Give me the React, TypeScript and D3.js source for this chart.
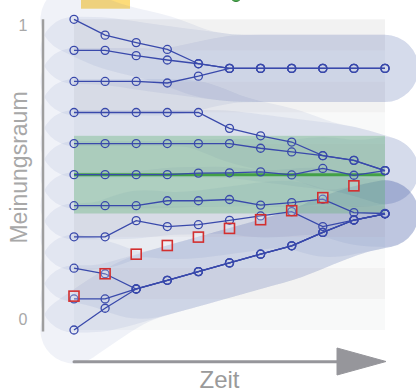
import React from "react";
import * as d3 from "d3";

const times = [0, 1, 2, 3, 4, 5, 6, 7, 8, 9, 10];
const agent00 = [0.0, 0.07, 0.132, 0.16, 0.188, 0.216, 0.244, 0.271, 0.314, 0.354, 0.374];
const agent01 = [0.1, 0.1, 0.132, 0.16, 0.188, 0.216, 0.244, 0.271, 0.314, 0.354, 0.374];
const agent02 = [0.199, 0.181, 0.132, 0.16, 0.188, 0.216, 0.244, 0.271, 0.314, 0.354, 0.374];
const agent03 = [0.3, 0.3, 0.352, 0.333, 0.339, 0.353, 0.367, 0.381, 0.333, 0.354, 0.374];
const agent04 = [0.4, 0.4, 0.4, 0.416, 0.416, 0.42, 0.402, 0.41, 0.421, 0.378, 0.375];
const agent05 = [0.5, 0.5, 0.5, 0.5, 0.505, 0.506, 0.509, 0.499, 0.52, 0.498, 0.513];
const agent06 = [0.6, 0.6, 0.6, 0.6, 0.6, 0.6, 0.585, 0.573, 0.561, 0.546, 0.513];
const agent07 = [0.7, 0.7, 0.7, 0.7, 0.7, 0.649, 0.625, 0.605, 0.561, 0.546, 0.513];
const agent08 = [0.8, 0.8, 0.8, 0.795, 0.817, 0.842, 0.842, 0.842, 0.842, 0.842, 0.842];
const agent09 = [0.9, 0.9, 0.883, 0.869, 0.857, 0.842, 0.842, 0.842, 0.842, 0.842, 0.842];
const agent10 = [1.0, 0.949, 0.925, 0.903, 0.857, 0.842, 0.842, 0.842, 0.842, 0.842, 0.842];
const agents = [agent00, agent01, agent02, agent03, agent04, agent05, agent06, agent07, agent08, agent09, agent10];

const seekerTimes = [0, 1, 2, 3, 4, 5, 6, 7, 8, 9];
const seeker = [0.109, 0.181, 0.244, 0.272, 0.299, 0.327, 0.355, 0.384, 0.426, 0.464];

const truth = 0.5;
const truthBand = [0.375, 0.625];
const confidence = 0.108;
const stripes = [0, 0.1, 0.2, 0.3, 0.4, 0.5, 0.6, 0.7, 0.8, 0.9];
const yTicks = [0, 1];

export default function App() {
  const W = 416, H = 391;
  const x = d3.scaleLinear().domain([0, 10]).range([74, 385]);
  const y = d3.scaleLinear().domain([0, 1]).range([330, 19.3]);
  const blob = d3.line<number>().x((_, i) => x(times[i])).y((d) => y(d)).curve(d3.curveBasis);
  const line = d3.line<number>().x((_, i) => x(times[i])).y((d) => y(d));
  const blobW = y(0) - y(2 * confidence);
  const blue = "#3949ab";

  return (
    <svg width={W} height={H} style={{ position: "absolute", left: 0, top: 0, fontFamily: "Liberation Sans, Arial, sans-serif" }}>
      <rect x={81} y={-10} width={49} height={18.7} fill="#fddc7a" />
      <circle cx={236} cy={-4} r={5.5} fill="#4caf50" stroke="#2e7d32" strokeWidth={1} />

      {stripes.map((s, i) => (
        <rect key={i} x={x(0)} y={y(s + 0.1)} width={x(10) - x(0)} height={y(s) - y(s + 0.1)} fill={i % 2 === 1 ? "#f2f2f2" : "#f8f9f9"} />
      ))}

      {agents.map((a, i) => (
        <path key={i} d={blob(a) || ""} fill="none" stroke="rgb(70,85,170)" strokeOpacity={0.08} strokeWidth={blobW} strokeLinecap="round" strokeLinejoin="round" />
      ))}

      <rect x={x(0)} y={y(truthBand[1])} width={x(10) - x(0)} height={y(truthBand[0]) - y(truthBand[1])} fill="rgb(100,180,120)" fillOpacity={0.38} />
      <line x1={x(0)} x2={x(10)} y1={y(truth)} y2={y(truth)} stroke="#43a047" strokeWidth={3} />

      {agents.map((a, i) => (
        <path key={i} d={line(a) || ""} fill="none" stroke={blue} strokeWidth={1.3} />
      ))}
      {agents.map((a, i) =>
        a.map((v, j) => (
          <circle key={`${i}-${j}`} cx={x(times[j])} cy={y(v)} r={4} fill="none" stroke={blue} strokeWidth={1.3} />
        ))
      )}

      {seeker.map((v, j) => (
        <rect key={j} x={x(seekerTimes[j]) - 5} y={y(v) - 5} width={10} height={10} fill="rgba(255,255,255,0.2)" stroke="#d32f2f" strokeWidth={1.6} />
      ))}

      <line x1={43} x2={43} y1={y(1)} y2={y(0) + 1.5} stroke="#9e9e9e" strokeWidth={2.5} />
      {yTicks.map((t) => (
        <text key={t} x={23} y={t === 1 ? 31 : 325} textAnchor="middle" fontSize={16} fill="#a8a8a8">{t}</text>
      ))}
      <text transform="translate(26.5,167.5) rotate(-90)" textAnchor="middle" fontSize={23} fill="#a8a8a8">Meinungsraum</text>

      <line x1={x(0)} x2={340} y1={361.7} y2={361.7} stroke="#96969b" strokeWidth={3} strokeLinecap="round" />
      <polygon points="337,348 337,375 386,361.5" fill="#96969b" stroke="#96969b" strokeWidth={1} strokeLinejoin="round" />
      <text x={219.5} y={388} textAnchor="middle" fontSize={24} fill="#9a9a9a">Zeit</text>
    </svg>
  );
}
